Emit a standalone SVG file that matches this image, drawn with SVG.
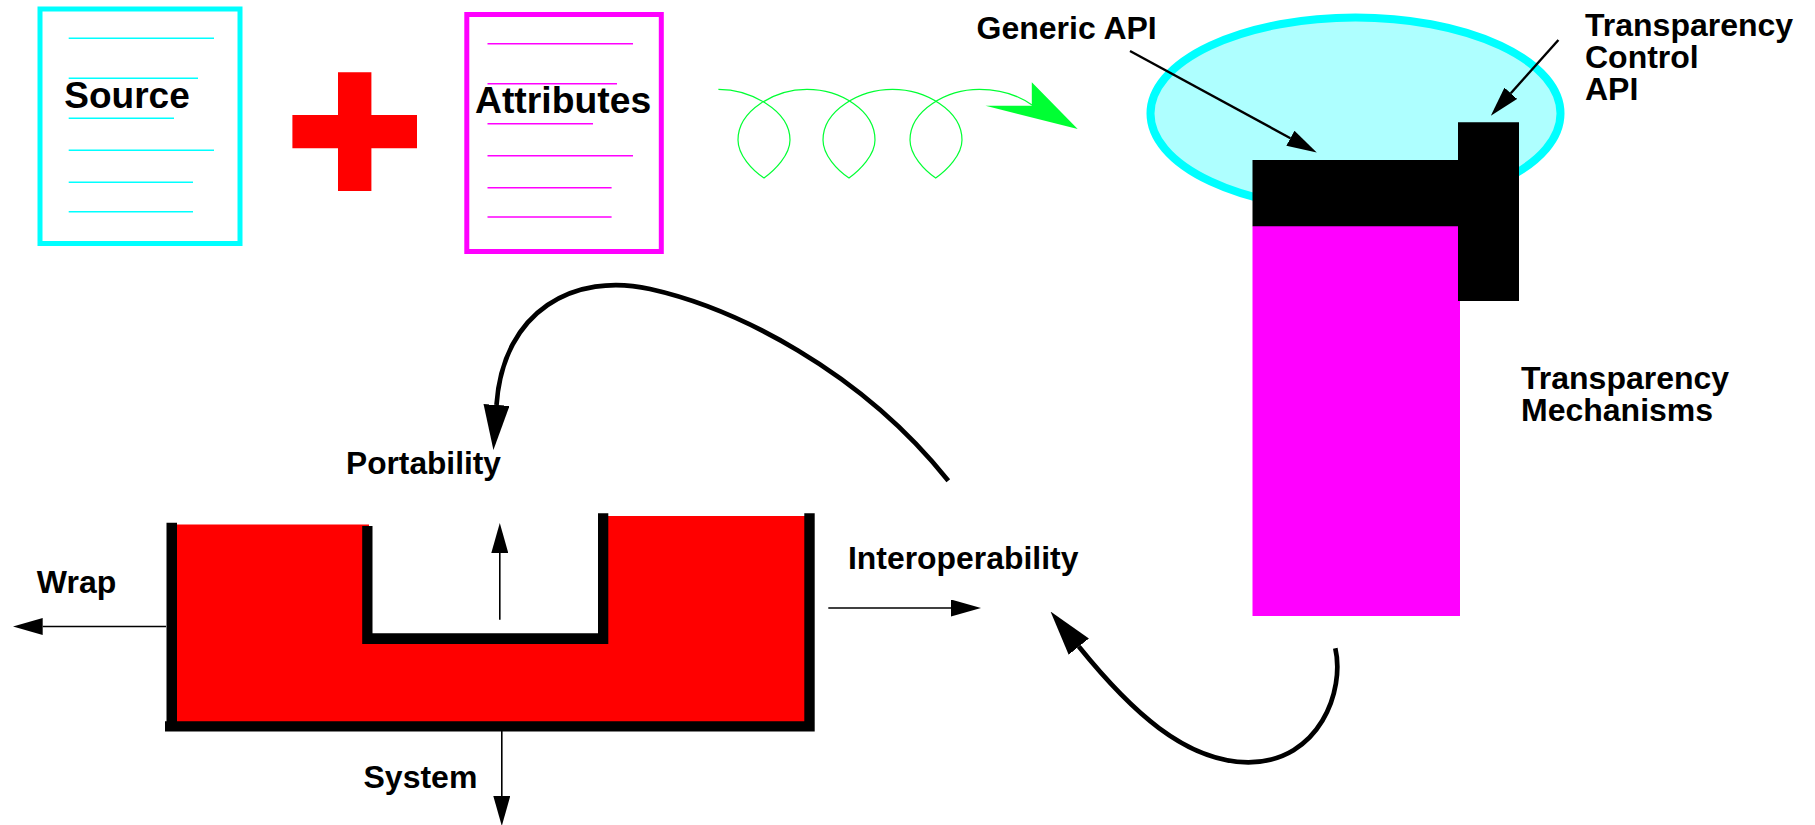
<svg xmlns="http://www.w3.org/2000/svg" width="1815" height="825" viewBox="0 0 1815 825">
<style>
text{font-family:"Liberation Sans",Arial,sans-serif;font-weight:bold;fill:#000}
.t32{font-size:32px}.t37{font-size:37px}
.doc{fill:#fff;stroke-width:5}
.cy{stroke:#00ffff}.mg{stroke:#ff00ff}
.rule{stroke-width:1.6;fill:none}
.k{fill:#000}.r{fill:#f00}
.thin{stroke:#000;stroke-width:1.6;fill:none;marker-end:url(#hs)}
.med{stroke:#000;stroke-width:2.4;fill:none;marker-end:url(#hs)}
.thick{stroke:#000;stroke-width:4.7;fill:none;marker-end:url(#hl)}
</style>
<defs>
<marker id="hs" markerUnits="userSpaceOnUse" viewBox="0 0 30 17" markerWidth="30" markerHeight="17" refX="0" refY="8.5" orient="auto"><polygon points="0,0 30,8.5 0,17" fill="#000"/></marker>
<marker id="hl" markerUnits="userSpaceOnUse" viewBox="0 0 45 26" markerWidth="45" markerHeight="26" refX="0" refY="13" orient="auto"><polygon points="0,0 45,13 0,26" fill="#000"/></marker>
</defs>
<rect width="1815" height="825" fill="#fff"/>
<g id="source">
<rect class="doc cy" x="40" y="9" width="200" height="234.5"/>
<g class="rule cy"><path d="M68.7,38.3H214M68.7,78.3H198M68.7,118.3H174M68.7,150.3H214M68.7,182.3H193M68.7,211.7H193"/></g>
<text class="t37" x="64.3" y="107.7">Source</text>
</g>
<g id="plus"><path class="r" d="M338,72.3H371.4V115H417V148.3H371.4V191H338V148.3H292.4V115H338Z"/></g>
<g id="attributes">
<rect class="doc mg" x="466.8" y="14.5" width="194.5" height="237"/>
<g class="rule mg"><path d="M487.5,43.7H633M487.5,83.7H617M487.5,123.7H593M487.5,155.7H633M487.5,187.7H611.6M487.5,217H611.6"/></g>
<text x="475" y="112.7" style="font-size:37.3px">Attributes</text>
</g>
<g id="api-stack">
<ellipse cx="1355.5" cy="113.5" rx="205" ry="96" fill="#aeffff" stroke="#00ffff" stroke-width="8"/>
<rect x="1252.5" y="226" width="207.5" height="390" fill="#f0f"/>
<path class="k" d="M1252.5,160H1458V122.3H1519V301H1458V226.3H1252.5Z"/>
</g>
<g id="labels">
<text class="t32" x="976.5" y="38.5">Generic API</text>
<text class="t32" x="1585" y="36">Transparency</text>
<text class="t32" x="1585" y="68.3">Control</text>
<text class="t32" x="1585" y="100">API</text>
<text class="t32" x="1521" y="389">Transparency</text>
<text class="t32" x="1521" y="421">Mechanisms</text>
<text x="346" y="473.8" style="font-size:31.7px">Portability</text>
<text x="848" y="568.5" style="font-size:31.9px">Interoperability</text>
<text class="t32" x="36.8" y="593.4">Wrap</text>
<text class="t32" x="363.5" y="787.8">System</text>
</g>
<g id="container">
<path class="r" d="M174,524.5H369V640H605V516H806V725H174Z"/>
<path class="k" d="M166.5,522.7H177V721.2H804.3V513.3H814.7V731.5H165V721.2H166.5Z"/>
<path class="k" d="M362.2,526H372.5V633.3H598V513.3H608.3V644H362.2Z"/>
</g>
<g id="connectors">
<path fill="none" stroke="#00ff33" stroke-width="1.2" d="M718.4,89.3C750,89.3 790,110 790,140C790,155 775,170 764,178C752,170 738,155 738,140C738,110 775,89.3 807,89.3C840,89.3 875,110 875,140C875,155 860,170 849,178C837,170 823,155 823,140C823,110 860,89.3 892.5,89.3C925,89.3 962,110 962,140C962,155 947,170 935.7,178C924,170 910,155 910,140C910,110 947,89.3 979.4,89.3C1000,89.3 1018,95 1032,105"/>
<polygon points="985.5,105.7 1031.8,105.7 1031.8,82.3 1077.7,129" fill="#00ff33"/>
<line class="med" x1="1130" y1="51" x2="1290.4" y2="138.2"/>
<line class="med" x1="1558.4" y1="40" x2="1510.8" y2="93.3"/>
<line class="thin" x1="166" y1="626.5" x2="42.7" y2="626.5"/>
<line class="thin" x1="499.8" y1="619.7" x2="499.8" y2="553"/>
<line class="thin" x1="501.8" y1="731" x2="501.8" y2="796"/>
<line class="thin" x1="828.3" y1="608" x2="951" y2="608"/>
<path class="thick" d="M948.3,480.7C860,370 735,308 650,289C575,272 503,310 496.5,405"/>
<path class="thick" d="M1335.3,648.3C1345,690 1320,762 1248.3,762.3C1185,762 1130,710 1078.8,646.6"/>
</g>
</svg>
